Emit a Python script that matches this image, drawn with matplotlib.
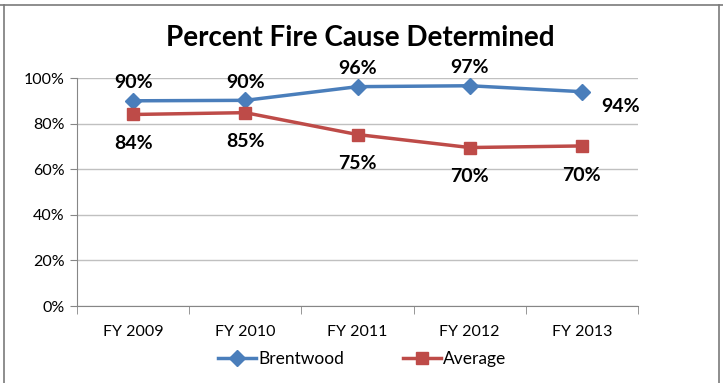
import numpy as np
import matplotlib.pyplot as plt
from matplotlib.lines import Line2D
from matplotlib.ticker import PercentFormatter

plt.rcParams['font.family'] = ['Lato', 'DejaVu Sans']

years = ['FY 2009', 'FY 2010', 'FY 2011', 'FY 2012', 'FY 2013']
brentwood = [0.90, 0.902, 0.962, 0.966, 0.94]
average = [0.84, 0.848, 0.752, 0.695, 0.702]
brentwood_labels = ['90%', '90%', '96%', '97%', '94%']
average_labels = ['84%', '85%', '75%', '70%', '70%']

blue = '#4a7ebb'
red = '#be4b48'

fig = plt.figure(figsize=(7.23, 3.83), dpi=100)
ax = fig.add_axes([77 / 723, 1 - 306 / 383, (638 - 77) / 723, (306 - 78) / 383])

x = np.arange(len(years))
ax.plot(x, brentwood, color=blue, lw=2.5, marker='D', ms=8, label='Brentwood')
ax.plot(x, average, color=red, lw=2.5, marker='s', ms=9, label='Average')

for i, lab in enumerate(brentwood_labels):
    if i == len(years) - 1:
        ax.annotate(lab, (x[i], brentwood[i]), xytext=(14, -11), textcoords='offset points',
                    ha='left', va='center', fontsize=14, fontweight='bold')
    else:
        ax.annotate(lab, (x[i], brentwood[i]), xytext=(0, 7), textcoords='offset points',
                    ha='center', va='bottom', fontsize=14, fontweight='bold')
for i, lab in enumerate(average_labels):
    ax.annotate(lab, (x[i], average[i]), xytext=(0, -15), textcoords='offset points',
                ha='center', va='top', fontsize=14, fontweight='bold')

ax.set_xlim(-0.5, len(years) - 0.5)
ax.set_ylim(0, 1.0)
ax.set_yticks(np.arange(0, 1.01, 0.2))
ax.yaxis.set_major_formatter(PercentFormatter(1.0, decimals=0))
ax.set_xticks(x)
ax.set_xticklabels(years)
ax.set_xticks(np.arange(-0.5, len(years), 1), minor=True)
ax.tick_params(axis='x', which='major', length=0, pad=14, labelsize=11.5)
ax.tick_params(axis='x', which='minor', length=6, color='#868686', direction='out')
ax.tick_params(axis='y', length=5, color='#868686', labelsize=11.5, pad=4)
ax.grid(axis='y', color='#c0c0c0', lw=1)
ax.set_axisbelow(True)
for s in ['top', 'right']:
    ax.spines[s].set_visible(False)
for s in ['left', 'bottom']:
    ax.spines[s].set_color('#868686')

fig.text(360 / 723, 1 - 38 / 383, 'Percent Fire Cause Determined', ha='center', va='center',
         fontsize=20, fontweight='bold')

fig.legend(loc='center', bbox_to_anchor=(362 / 723, 1 - 359 / 383), ncol=2, frameon=False,
           fontsize=12.5, handlelength=2.2, columnspacing=3.4, handletextpad=0.1)

# outer frame
for xs, ys in [([0, 1], [1 - 5 / 383] * 2), ([4 / 723] * 2, [0, 1 - 5 / 383]),
               ([719 / 723] * 2, [0, 1 - 5 / 383])]:
    fig.add_artist(Line2D(xs, ys, transform=fig.transFigure, color='#7a7a7a', lw=1.2))

fig.savefig('out.png', dpi=100)
